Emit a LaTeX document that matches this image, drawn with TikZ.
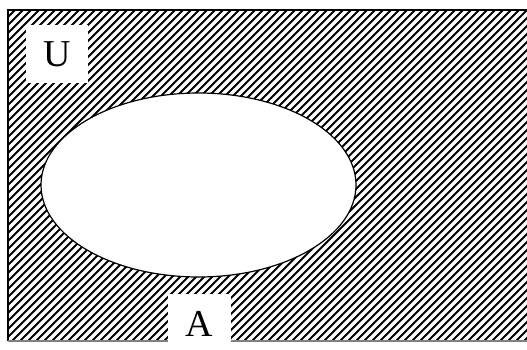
\documentclass[tikz,border=0pt]{standalone}
\usepackage{fontspec}
\setmainfont{Liberation Serif}
\usetikzlibrary{shapes.geometric}
\begin{document}
\begin{tikzpicture}[x=1pt,y=-1pt,
  hatch/.style={line width=2.1pt,black},
  setA/.style={ellipse,draw=black,line width=1.2pt,fill=white,minimum width=315pt,minimum height=184pt,inner sep=0pt},
  lbl/.style={fill=white,inner sep=0pt,font=\fontsize{38}{38}\selectfont}]
\useasboundingbox (0,0) rectangle (527,350);
\fill[white] (0,0) rectangle (527,350);
\begin{scope}
\clip (8,10) rectangle (527,341);
\foreach \i in {-360,-352,...,540}{
  \draw[hatch] (\i,345) -- (\i+340,5);
}
\end{scope}
\draw[black,line width=1.2pt] (8,341) -- (8,10) -- (527,10);
\draw[gray,line width=1.5pt] (8,341) -- (527,341);
\node[setA] (A) at (198.5,185) {};
\node[lbl,minimum width=62pt,minimum height=58pt] (U) at (57,54) {U};
\node[lbl,minimum width=63pt,minimum height=56pt,text depth=0pt] (Alab) at (199,322) {\raisebox{-4pt}{A}};
\end{tikzpicture}
\end{document}
